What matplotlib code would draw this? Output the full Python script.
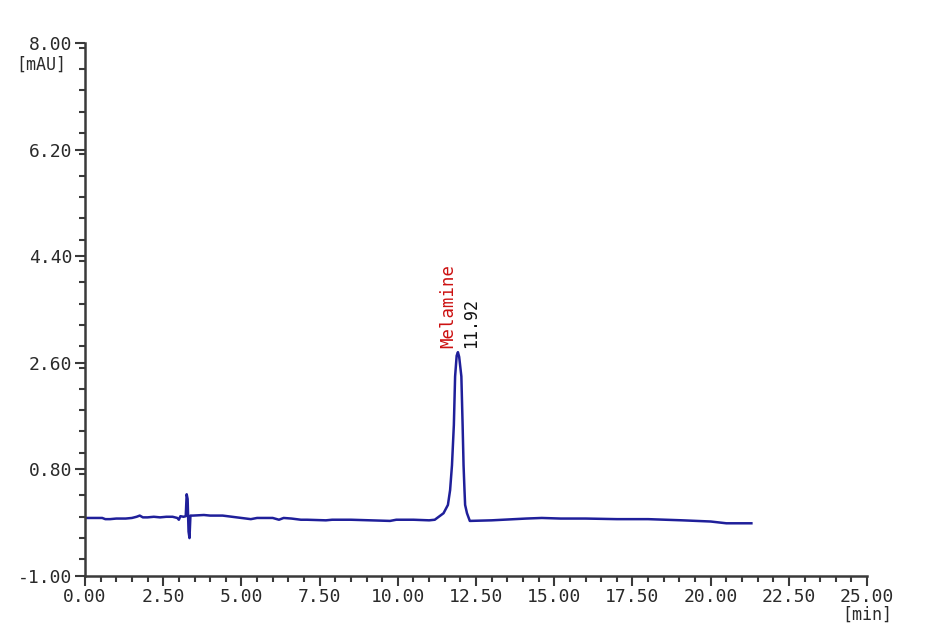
import numpy as np
import matplotlib
matplotlib.use("Agg")
import matplotlib.pyplot as plt
from matplotlib.ticker import MultipleLocator, FixedLocator

# retention time [min] and detector signal [mAU]
time_min = [0.00, 0.30, 0.55, 0.65, 0.80, 1.00, 1.30, 1.50, 1.65, 1.75, 1.85,
            2.00, 2.20, 2.40, 2.60, 2.80, 2.95, 3.00, 3.05, 3.15, 3.22, 3.25,
            3.28, 3.31, 3.34, 3.37, 3.45, 3.80, 4.00, 4.40, 5.00, 5.30, 5.50,
            6.00, 6.20, 6.35, 6.60, 6.90, 7.10, 7.70, 7.90, 8.50, 9.75, 9.95,
            10.50, 11.00, 11.18, 11.46, 11.60, 11.67, 11.73, 11.79, 11.83,
            11.88, 11.92, 11.96, 12.03, 12.07, 12.10, 12.13, 12.15, 12.21,
            12.30, 13.00, 14.10, 14.60, 15.20, 16.00, 17.00, 18.00, 19.10,
            20.00, 20.50, 21.30]
signal_mau = [-0.02, -0.02, -0.02, -0.04, -0.04, -0.03, -0.03, -0.02, 0.00,
              0.02, -0.01, -0.01, 0.00, -0.01, 0.00, 0.00, -0.02, -0.05, 0.01,
              0.00, 0.01, 0.38, 0.30, -0.25, -0.36, 0.02, 0.02, 0.03, 0.02,
              0.02, -0.02, -0.04, -0.02, -0.02, -0.05, -0.02, -0.03, -0.05,
              -0.05, -0.06, -0.05, -0.05, -0.07, -0.05, -0.05, -0.06, -0.05,
              0.06, 0.20, 0.45, 0.87, 1.55, 2.37, 2.72, 2.78, 2.70, 2.37, 1.55,
              0.87, 0.45, 0.20, 0.06, -0.07, -0.06, -0.03, -0.02, -0.03, -0.03,
              -0.04, -0.04, -0.06, -0.08, -0.11, -0.11]

peak_rt = 11.92
peak_name = "Melamine"

y_ticks = [-1.00, 0.80, 2.60, 4.40, 6.20, 8.00]
x_ticks = [0.0, 2.5, 5.0, 7.5, 10.0, 12.5, 15.0, 17.5, 20.0, 22.5, 25.0]

mono = "DejaVu Sans Mono"
axis_col = "#3a3a3a"

fig = plt.figure(figsize=(9.3, 6.44), dpi=100)
ax = fig.add_axes([0.0914, 0.1056, 0.841, 0.8276])

ax.plot(time_min, signal_mau, color="#1f1f9a", lw=1.8)

ax.set_xlim(0, 25)
ax.set_ylim(-1, 8)
ax.xaxis.set_major_locator(FixedLocator(x_ticks))
ax.xaxis.set_minor_locator(MultipleLocator(0.5))
ax.yaxis.set_major_locator(FixedLocator(y_ticks))
ax.yaxis.set_minor_locator(MultipleLocator(0.36))
ax.set_xticklabels([f"{t:.2f}" for t in x_ticks])
ax.set_yticklabels([f"{t:.2f}" for t in y_ticks])

for s in ["top", "right"]:
    ax.spines[s].set_visible(False)
for s in ["left", "bottom"]:
    ax.spines[s].set_color(axis_col)
    ax.spines[s].set_linewidth(1.8)

ax.tick_params(which="major", direction="out", length=7, width=1.5,
               color=axis_col, labelcolor="#2a2a2a", labelsize=13, pad=2)
ax.tick_params(which="minor", direction="out", length=4, width=1.5,
               color=axis_col)
for lab in ax.get_xticklabels() + ax.get_yticklabels():
    lab.set_family(mono)

# unit labels under the last tick labels
ax.text(-0.6, 7.78, "[mAU]", family=mono, fontsize=12, color="#2a2a2a",
        ha="right", va="top")
ax.text(25.0, -1.50, "[min]", family=mono, fontsize=12, color="#2a2a2a",
        ha="center", va="top")

# peak annotation
top = max(signal_mau)
ax.text(peak_rt - 0.3, top + 0.07, peak_name, rotation=90, family=mono,
        fontsize=12.5, color="#cc1111", ha="center", va="bottom")
ax.text(peak_rt + 0.42, top + 0.07, f"{peak_rt:.2f}", rotation=90,
        family=mono, fontsize=12, color="#111111", ha="center", va="bottom")

fig.savefig("out.png", dpi=100, facecolor="white")
